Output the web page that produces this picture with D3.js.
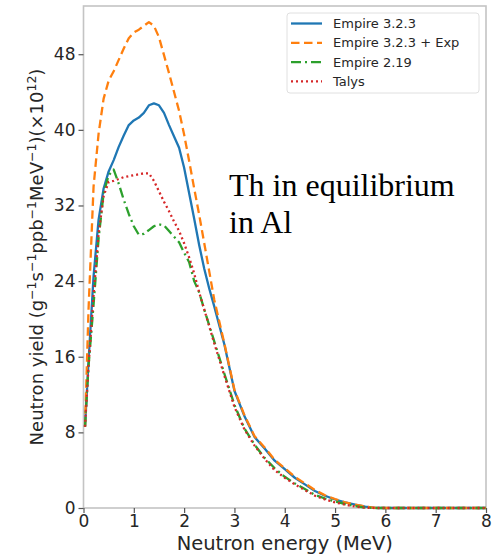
<!DOCTYPE html>
<html>
<head>
<meta charset="utf-8">
<script src="https://d3js.org/d3.v7.min.js"></script>
<style>
  body { margin: 0; background: #fff; }
  svg { display: block; }
</style>
</head>
<body>
<svg id="chart" width="500" height="556"></svg>
<script>
  // energy grid (MeV), shared by all four curves
  const energy = [0.03, 0.1, 0.2, 0.3, 0.4, 0.5, 0.6, 0.7, 0.8, 0.9, 1.0, 1.1, 1.2, 1.3, 1.4, 1.5, 1.6, 1.7, 1.8, 1.9,
    2.0, 2.1, 2.2, 2.3, 2.4, 2.5, 2.6, 2.8, 3.0, 3.2, 3.4, 3.6, 3.8, 4.0, 4.2, 4.4, 4.6, 4.8, 5.0, 5.2, 5.4, 5.6, 5.8, 6.0, 7.0, 8.0];

  const empire323 = [8.6, 15.5, 24.5, 30.5, 33.8, 35.6, 36.8, 38.2, 39.4, 40.5, 41.0, 41.3, 41.8, 42.6, 42.8, 42.6, 41.8, 40.5, 39.3, 38.1,
    36.0, 33.3, 30.6, 27.8, 25.3, 23.2, 21.3, 17.3, 12.4, 9.7, 7.5, 6.3, 5.0, 4.1, 3.2, 2.5, 1.8, 1.3, 0.9, 0.6, 0.35, 0.15, 0.02, 0, 0, 0];

  const empire323exp = [8.6, 21.0, 34.0, 39.6, 43.3, 45.2, 46.2, 47.4, 48.6, 49.7, 50.3, 50.6, 51.0, 51.4, 51.0, 49.8, 47.9, 46.0, 44.0, 42.0,
    39.5, 36.7, 33.8, 31.0, 28.0, 25.0, 22.0, 17.4, 12.5, 9.8, 7.6, 6.4, 5.1, 4.2, 3.3, 2.6, 1.9, 1.35, 0.95, 0.6, 0.35, 0.15, 0.02, 0, 0, 0];

  const empire219 = [8.6, 15.0, 21.5, 28.5, 33.3, 35.2, 35.8, 34.3, 32.6, 31.1, 29.8, 28.9, 29.0, 29.4, 29.8, 30.0, 29.9, 29.3, 28.7, 28.1,
    27.0, 26.0, 24.0, 22.8, 21.0, 19.3, 17.6, 14.2, 10.9, 8.4, 6.7, 5.3, 4.2, 3.3, 2.6, 2.0, 1.4, 1.0, 0.7, 0.4, 0.2, 0.05, 0, 0, 0, 0];

  const talys = [8.6, 15.0, 22.5, 29.0, 33.0, 34.5, 34.6, 34.8, 35.0, 35.1, 35.2, 35.3, 35.4, 35.4, 34.6, 33.5, 32.4, 31.4, 30.3, 29.3,
    28.0, 26.5, 24.8, 22.8, 21.0, 19.2, 17.4, 14.0, 10.7, 8.3, 6.6, 5.2, 4.0, 3.2, 2.5, 1.9, 1.3, 0.9, 0.6, 0.35, 0.15, 0.03, 0, 0, 0, 0];

  const seriesNames = ["Empire 3.2.3", "Empire 3.2.3 + Exp", "Empire 2.19", "Talys"];
  const xTicks = [0, 1, 2, 3, 4, 5, 6, 7, 8];
  const yTicks = [0, 8, 16, 24, 32, 40, 48];

  const series = [
    { name: seriesNames[0], values: empire323, color: "#1f77b4", dash: null },
    { name: seriesNames[1], values: empire323exp, color: "#ff7f0e", dash: "8.5,4.5" },
    { name: seriesNames[2], values: empire219, color: "#2ca02c", dash: "10,4,2,4" },
    { name: seriesNames[3], values: talys, color: "#d62728", dash: "2,3" }
  ];

  const svg = d3.select("#chart");
  const pLeft = 83.5, pRight = 486, pTop = 6, pBottom = 508;

  const x = d3.scaleLinear().domain([0, 8]).range([pLeft, pRight]);
  const y = d3.scaleLinear().domain([0, 53.1]).range([pBottom, pTop]);

  // frame
  svg.append("rect")
    .attr("x", pLeft).attr("y", pTop)
    .attr("width", pRight - pLeft).attr("height", pBottom - pTop)
    .attr("fill", "none").attr("stroke", "#c4c4c4").attr("stroke-width", 1.6);

  const tickFont = "DejaVu Sans, sans-serif";

  const xAxis = svg.append("g")
    .attr("transform", `translate(0,${pBottom})`)
    .call(d3.axisBottom(x).tickValues(xTicks).tickSize(5).tickPadding(2).tickFormat(d3.format("d")));
  const yAxis = svg.append("g")
    .attr("transform", `translate(${pLeft},0)`)
    .call(d3.axisLeft(y).tickValues(yTicks).tickSize(5).tickPadding(3).tickFormat(d3.format("d")));

  [xAxis, yAxis].forEach(a => {
    a.select(".domain").remove();
    a.selectAll(".tick line").attr("stroke", "#555").attr("stroke-width", 1.2);
    a.selectAll(".tick text")
      .attr("fill", "#262626")
      .style("font-family", tickFont)
      .style("font-size", "17px");
  });

  // curves
  const line = d3.line()
    .x((d, i) => x(energy[i]))
    .y(d => y(d));

  series.forEach(s => {
    svg.append("path")
      .datum(s.values)
      .attr("d", line)
      .attr("fill", "none")
      .attr("stroke", s.color)
      .attr("stroke-width", 2.3)
      .attr("stroke-dasharray", s.dash)
      .attr("stroke-linejoin", "round");
  });

  // legend
  const lg = svg.append("g").attr("transform", "translate(287,13)");
  lg.append("rect")
    .attr("width", 192).attr("height", 80).attr("rx", 3)
    .attr("fill", "#fff").attr("fill-opacity", 0.8)
    .attr("stroke", "#e0e0e0").attr("stroke-width", 1);
  series.forEach((s, i) => {
    const ly = 10.5 + i * 19.3;
    lg.append("line")
      .attr("x1", 4).attr("x2", 35).attr("y1", ly).attr("y2", ly)
      .attr("stroke", s.color).attr("stroke-width", 2.3)
      .attr("stroke-dasharray", s.dash);
    lg.append("text")
      .attr("x", 46).attr("y", ly)
      .attr("dy", "0.35em")
      .attr("fill", "#262626")
      .style("font-family", tickFont)
      .style("font-size", "13px")
      .text(s.name);
  });

  // annotation
  const note = svg.append("text")
    .attr("x", 229).attr("y", 196)
    .style("font-family", "Liberation Serif, Times New Roman, serif")
    .style("font-size", "32px")
    .attr("fill", "#000");
  note.append("tspan").attr("x", 229).text("Th in equilibrium");
  note.append("tspan").attr("x", 229).attr("dy", 37).text("in Al");

  // axis labels
  svg.append("text")
    .attr("x", (pLeft + pRight) / 2).attr("y", 550)
    .attr("text-anchor", "middle")
    .attr("fill", "#262626")
    .style("font-family", tickFont)
    .style("font-size", "19.5px")
    .text("Neutron energy (MeV)");

  const yl = svg.append("text")
    .attr("transform", "translate(43,257) rotate(-90)")
    .attr("text-anchor", "middle")
    .attr("fill", "#262626")
    .style("font-family", tickFont)
    .style("font-size", "18px");
  const parts = [["Neutron yield (g", false], ["−1", true], ["s", false], ["−1", true], ["ppb", false], ["−1", true],
    ["MeV", false], ["−1", true], [")(×10", false], ["12", true], [")", false]];
  parts.forEach(([t, sup], i) => {
    const ts = yl.append("tspan").text(t);
    if (sup) ts.attr("dy", -7).style("font-size", "12.5px");
    else if (i > 0) ts.attr("dy", 7);
  });
</script>
</body>
</html>
